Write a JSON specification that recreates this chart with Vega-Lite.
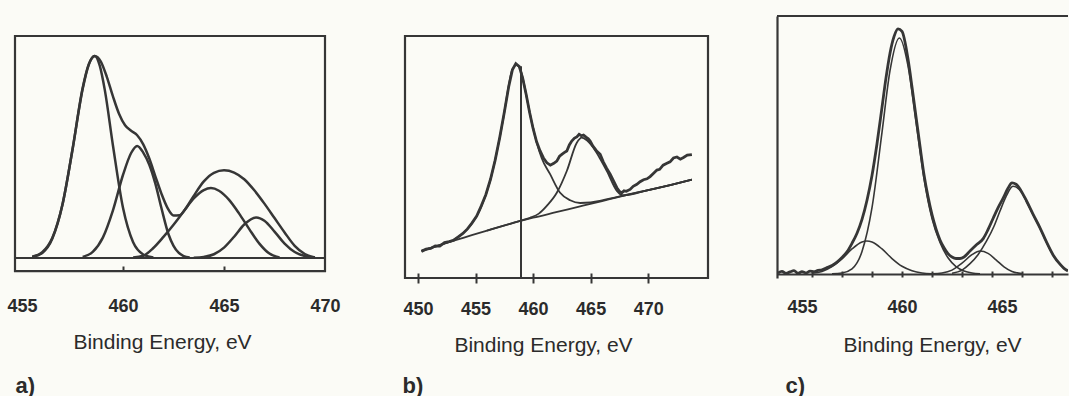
{
  "$schema": "https://vega.github.io/schema/vega-lite/v6.json",
  "background": "#fbfbf6",
  "padding": {"left": 7, "top": 14, "right": 0, "bottom": 0},
  "autosize": {"type": "pad"},
  "bounds": "flush",
  "spacing": 80,
  "config": {
    "view": {"stroke": null},
    "axis": {
      "labelFont": "Liberation Sans", "titleFont": "Liberation Sans",
      "labelColor": "#2b2b2b", "titleColor": "#2b2b2b",
      "labelFontSize": 18, "labelFontWeight": "bold",
      "titleFontSize": 21, "titleFontWeight": "normal",
      "grid": false, "domainColor": "#363636", "tickColor": "#363636",
      "domainWidth": 2.2, "tickWidth": 2, "labelFlush": false, "labelOverlap": false
    }
  },
  "datasets": {
    "a_curves": [
      {"curve": "envelope", "eV": 455.5, "I": 0.5}, {"curve": "envelope", "eV": 456.0, "I": 2.3}, {"curve": "envelope", "eV": 456.5, "I": 8.8},
      {"curve": "envelope", "eV": 457.0, "I": 24.0}, {"curve": "envelope", "eV": 457.5, "I": 49.0}, {"curve": "envelope", "eV": 458.0, "I": 76.6},
      {"curve": "envelope", "eV": 458.3, "I": 87.2}, {"curve": "envelope", "eV": 458.6, "I": 91.0}, {"curve": "envelope", "eV": 458.9, "I": 88.5},
      {"curve": "envelope", "eV": 459.2, "I": 81.5}, {"curve": "envelope", "eV": 459.5, "I": 72.8}, {"curve": "envelope", "eV": 459.8, "I": 65.0},
      {"curve": "envelope", "eV": 460.1, "I": 59.8}, {"curve": "envelope", "eV": 460.4, "I": 57.3}, {"curve": "envelope", "eV": 460.7, "I": 55.3},
      {"curve": "envelope", "eV": 461.0, "I": 51.2}, {"curve": "envelope", "eV": 461.3, "I": 44.8}, {"curve": "envelope", "eV": 461.6, "I": 36.8},
      {"curve": "envelope", "eV": 461.9, "I": 29.0}, {"curve": "envelope", "eV": 462.2, "I": 22.6}, {"curve": "envelope", "eV": 462.5, "I": 19.2},
      {"curve": "envelope", "eV": 462.8, "I": 19.3}, {"curve": "envelope", "eV": 463.1, "I": 22.3}, {"curve": "envelope", "eV": 463.5, "I": 28.0},
      {"curve": "envelope", "eV": 464.0, "I": 34.5}, {"curve": "envelope", "eV": 464.5, "I": 38.4}, {"curve": "envelope", "eV": 465.0, "I": 39.5},
      {"curve": "envelope", "eV": 465.5, "I": 38.5}, {"curve": "envelope", "eV": 466.0, "I": 35.5}, {"curve": "envelope", "eV": 466.5, "I": 30.5},
      {"curve": "envelope", "eV": 467.0, "I": 24.5}, {"curve": "envelope", "eV": 467.5, "I": 18.0}, {"curve": "envelope", "eV": 468.0, "I": 11.5},
      {"curve": "envelope", "eV": 468.5, "I": 5.5}, {"curve": "envelope", "eV": 469.0, "I": 1.8}, {"curve": "envelope", "eV": 469.5, "I": 0.2},
      {"curve": "p1", "eV": 455.5, "I": 0.6}, {"curve": "p1", "eV": 456.0, "I": 2.6}, {"curve": "p1", "eV": 456.5, "I": 9.1},
      {"curve": "p1", "eV": 457.0, "I": 24.1}, {"curve": "p1", "eV": 457.5, "I": 49.0}, {"curve": "p1", "eV": 458.0, "I": 76.1},
      {"curve": "p1", "eV": 458.3, "I": 87.0}, {"curve": "p1", "eV": 458.6, "I": 91.0}, {"curve": "p1", "eV": 458.85, "I": 86.5},
      {"curve": "p1", "eV": 459.1, "I": 75.5}, {"curve": "p1", "eV": 459.5, "I": 50.7}, {"curve": "p1", "eV": 460.0, "I": 22.5},
      {"curve": "p1", "eV": 460.5, "I": 7.1}, {"curve": "p1", "eV": 461.0, "I": 1.6}, {"curve": "p1", "eV": 461.5, "I": 0.2},
      {"curve": "p2", "eV": 458.0, "I": 0.5}, {"curve": "p2", "eV": 458.5, "I": 2.8}, {"curve": "p2", "eV": 459.0, "I": 9.2},
      {"curve": "p2", "eV": 459.5, "I": 21.5}, {"curve": "p2", "eV": 460.0, "I": 37.5}, {"curve": "p2", "eV": 460.4, "I": 47.3},
      {"curve": "p2", "eV": 460.7, "I": 50.5}, {"curve": "p2", "eV": 461.0, "I": 47.5}, {"curve": "p2", "eV": 461.3, "I": 42.0},
      {"curve": "p2", "eV": 461.6, "I": 33.5}, {"curve": "p2", "eV": 461.9, "I": 22.5}, {"curve": "p2", "eV": 462.25, "I": 10.7},
      {"curve": "p2", "eV": 462.5, "I": 5.5}, {"curve": "p2", "eV": 462.75, "I": 2.4}, {"curve": "p2", "eV": 463.0, "I": 0.9},
      {"curve": "p2", "eV": 463.3, "I": 0.2},
      {"curve": "p3", "eV": 460.5, "I": 0.2}, {"curve": "p3", "eV": 461.0, "I": 1.0}, {"curve": "p3", "eV": 461.5, "I": 4.5},
      {"curve": "p3", "eV": 462.0, "I": 9.5}, {"curve": "p3", "eV": 462.5, "I": 15.0}, {"curve": "p3", "eV": 463.0, "I": 21.0},
      {"curve": "p3", "eV": 463.5, "I": 26.8}, {"curve": "p3", "eV": 464.0, "I": 30.6}, {"curve": "p3", "eV": 464.35, "I": 31.5},
      {"curve": "p3", "eV": 464.75, "I": 30.3}, {"curve": "p3", "eV": 465.25, "I": 26.2}, {"curve": "p3", "eV": 465.75, "I": 20.0},
      {"curve": "p3", "eV": 466.25, "I": 13.0}, {"curve": "p3", "eV": 466.75, "I": 6.5}, {"curve": "p3", "eV": 467.25, "I": 2.0},
      {"curve": "p3", "eV": 467.75, "I": 0.3},
      {"curve": "p4", "eV": 463.5, "I": 0.1}, {"curve": "p4", "eV": 464.0, "I": 0.5}, {"curve": "p4", "eV": 464.5, "I": 1.7},
      {"curve": "p4", "eV": 465.0, "I": 4.7}, {"curve": "p4", "eV": 465.5, "I": 9.6}, {"curve": "p4", "eV": 466.0, "I": 15.1},
      {"curve": "p4", "eV": 466.6, "I": 18.3}, {"curve": "p4", "eV": 467.0, "I": 16.8}, {"curve": "p4", "eV": 467.5, "I": 11.9},
      {"curve": "p4", "eV": 468.0, "I": 6.5}, {"curve": "p4", "eV": 468.5, "I": 2.7}, {"curve": "p4", "eV": 469.0, "I": 0.9},
      {"curve": "p4", "eV": 469.5, "I": 0.2}
    ],
    "b_curves": [
      {"curve": "bg", "eV": 450.3, "I": 11.2}, {"curve": "bg", "eV": 452.0, "I": 13.8}, {"curve": "bg", "eV": 454.0, "I": 16.7},
      {"curve": "bg", "eV": 456.0, "I": 19.6}, {"curve": "bg", "eV": 458.0, "I": 22.4}, {"curve": "bg", "eV": 460.0, "I": 24.9},
      {"curve": "bg", "eV": 462.0, "I": 27.2}, {"curve": "bg", "eV": 464.0, "I": 29.5}, {"curve": "bg", "eV": 466.0, "I": 31.8},
      {"curve": "bg", "eV": 468.0, "I": 34.1}, {"curve": "bg", "eV": 470.0, "I": 36.3}, {"curve": "bg", "eV": 472.0, "I": 38.5},
      {"curve": "bg", "eV": 473.8, "I": 40.6},
      {"curve": "fit1", "eV": 450.3, "I": 11.2}, {"curve": "fit1", "eV": 451.9, "I": 13.6}, {"curve": "fit1", "eV": 453.36, "I": 16.5},
      {"curve": "fit1", "eV": 454.52, "I": 21.5}, {"curve": "fit1", "eV": 455.39, "I": 28.2}, {"curve": "fit1", "eV": 456.26, "I": 40.0},
      {"curve": "fit1", "eV": 456.84, "I": 51.8}, {"curve": "fit1", "eV": 457.42, "I": 66.2}, {"curve": "fit1", "eV": 457.85, "I": 78.6},
      {"curve": "fit1", "eV": 458.15, "I": 85.5}, {"curve": "fit1", "eV": 458.55, "I": 88.0}, {"curve": "fit1", "eV": 458.9, "I": 86.2},
      {"curve": "fit1", "eV": 459.16, "I": 81.4}, {"curve": "fit1", "eV": 459.51, "I": 73.1}, {"curve": "fit1", "eV": 459.89, "I": 64.2},
      {"curve": "fit1", "eV": 460.32, "I": 55.9}, {"curve": "fit1", "eV": 460.75, "I": 49.5}, {"curve": "fit1", "eV": 461.48, "I": 42.9},
      {"curve": "fit1", "eV": 462.35, "I": 35.2}, {"curve": "fit1", "eV": 463.22, "I": 32.1}, {"curve": "fit1", "eV": 464.09, "I": 31.0},
      {"curve": "fit1", "eV": 465.0, "I": 31.2}, {"curve": "fit1", "eV": 465.9, "I": 32.0}, {"curve": "fit1", "eV": 466.98, "I": 33.1},
      {"curve": "fit1", "eV": 467.85, "I": 34.1}, {"curve": "fit1", "eV": 470.0, "I": 36.3}, {"curve": "fit1", "eV": 472.0, "I": 38.5},
      {"curve": "fit1", "eV": 473.8, "I": 40.6},
      {"curve": "fit2", "eV": 456.0, "I": 19.6}, {"curve": "fit2", "eV": 458.0, "I": 22.4}, {"curve": "fit2", "eV": 459.0, "I": 23.8},
      {"curve": "fit2", "eV": 459.74, "I": 24.9}, {"curve": "fit2", "eV": 460.5, "I": 26.6}, {"curve": "fit2", "eV": 461.19, "I": 29.8},
      {"curve": "fit2", "eV": 462.06, "I": 35.2}, {"curve": "fit2", "eV": 462.93, "I": 44.2}, {"curve": "fit2", "eV": 463.8, "I": 55.9},
      {"curve": "fit2", "eV": 464.23, "I": 58.0}, {"curve": "fit2", "eV": 464.7, "I": 56.8}, {"curve": "fit2", "eV": 465.24, "I": 53.8},
      {"curve": "fit2", "eV": 465.8, "I": 49.5}, {"curve": "fit2", "eV": 466.41, "I": 44.2}, {"curve": "fit2", "eV": 467.28, "I": 36.0},
      {"curve": "fit2", "eV": 467.85, "I": 34.1}, {"curve": "fit2", "eV": 470.0, "I": 36.3}, {"curve": "fit2", "eV": 472.0, "I": 38.5},
      {"curve": "fit2", "eV": 473.8, "I": 40.6},
      {"curve": "data", "eV": 450.3, "I": 11.0}, {"curve": "data", "eV": 450.7, "I": 11.9}, {"curve": "data", "eV": 451.1, "I": 12.2},
      {"curve": "data", "eV": 451.5, "I": 13.3}, {"curve": "data", "eV": 451.9, "I": 13.2}, {"curve": "data", "eV": 452.3, "I": 14.6},
      {"curve": "data", "eV": 452.7, "I": 15.0}, {"curve": "data", "eV": 453.1, "I": 15.6}, {"curve": "data", "eV": 453.5, "I": 17.0},
      {"curve": "data", "eV": 453.9, "I": 18.4}, {"curve": "data", "eV": 454.3, "I": 20.3}, {"curve": "data", "eV": 454.7, "I": 22.8},
      {"curve": "data", "eV": 455.1, "I": 25.6}, {"curve": "data", "eV": 455.5, "I": 29.8}, {"curve": "data", "eV": 455.9, "I": 34.5},
      {"curve": "data", "eV": 456.3, "I": 40.8}, {"curve": "data", "eV": 456.7, "I": 48.6}, {"curve": "data", "eV": 457.1, "I": 58.0},
      {"curve": "data", "eV": 457.5, "I": 68.5}, {"curve": "data", "eV": 457.9, "I": 79.5}, {"curve": "data", "eV": 458.2, "I": 86.0},
      {"curve": "data", "eV": 458.5, "I": 88.6}, {"curve": "data", "eV": 458.8, "I": 87.4}, {"curve": "data", "eV": 459.1, "I": 82.5},
      {"curve": "data", "eV": 459.4, "I": 75.8}, {"curve": "data", "eV": 459.7, "I": 68.4}, {"curve": "data", "eV": 460.0, "I": 61.8},
      {"curve": "data", "eV": 460.3, "I": 56.4}, {"curve": "data", "eV": 460.6, "I": 52.6}, {"curve": "data", "eV": 460.9, "I": 49.6},
      {"curve": "data", "eV": 461.2, "I": 47.6}, {"curve": "data", "eV": 461.5, "I": 46.6}, {"curve": "data", "eV": 461.8, "I": 47.4},
      {"curve": "data", "eV": 462.06, "I": 48.3}, {"curve": "data", "eV": 462.3, "I": 50.3}, {"curve": "data", "eV": 462.5, "I": 51.1},
      {"curve": "data", "eV": 462.7, "I": 51.8}, {"curve": "data", "eV": 462.93, "I": 52.5}, {"curve": "data", "eV": 463.15, "I": 55.0},
      {"curve": "data", "eV": 463.36, "I": 56.6}, {"curve": "data", "eV": 463.6, "I": 57.8}, {"curve": "data", "eV": 463.8, "I": 58.3},
      {"curve": "data", "eV": 464.0, "I": 59.4}, {"curve": "data", "eV": 464.2, "I": 58.8}, {"curve": "data", "eV": 464.38, "I": 59.1},
      {"curve": "data", "eV": 464.6, "I": 58.2}, {"curve": "data", "eV": 464.8, "I": 57.5}, {"curve": "data", "eV": 464.96, "I": 56.6},
      {"curve": "data", "eV": 465.2, "I": 54.5}, {"curve": "data", "eV": 465.5, "I": 52.6}, {"curve": "data", "eV": 465.83, "I": 51.1},
      {"curve": "data", "eV": 466.1, "I": 48.0}, {"curve": "data", "eV": 466.4, "I": 45.3}, {"curve": "data", "eV": 466.7, "I": 42.9},
      {"curve": "data", "eV": 467.0, "I": 40.0}, {"curve": "data", "eV": 467.28, "I": 37.3}, {"curve": "data", "eV": 467.5, "I": 35.8},
      {"curve": "data", "eV": 467.71, "I": 35.2}, {"curve": "data", "eV": 467.9, "I": 36.0}, {"curve": "data", "eV": 468.1, "I": 35.8},
      {"curve": "data", "eV": 468.43, "I": 36.6}, {"curve": "data", "eV": 468.7, "I": 37.9}, {"curve": "data", "eV": 469.02, "I": 38.7},
      {"curve": "data", "eV": 469.3, "I": 39.8}, {"curve": "data", "eV": 469.6, "I": 40.6}, {"curve": "data", "eV": 469.9, "I": 41.0},
      {"curve": "data", "eV": 470.17, "I": 41.9}, {"curve": "data", "eV": 470.45, "I": 43.2}, {"curve": "data", "eV": 470.76, "I": 44.6},
      {"curve": "data", "eV": 471.0, "I": 44.9}, {"curve": "data", "eV": 471.3, "I": 46.6}, {"curve": "data", "eV": 471.63, "I": 47.4},
      {"curve": "data", "eV": 471.9, "I": 48.0}, {"curve": "data", "eV": 472.2, "I": 49.6}, {"curve": "data", "eV": 472.5, "I": 50.0},
      {"curve": "data", "eV": 472.8, "I": 49.1}, {"curve": "data", "eV": 473.07, "I": 49.8}, {"curve": "data", "eV": 473.4, "I": 50.8},
      {"curve": "data", "eV": 473.8, "I": 51.0}
    ],
    "b_marker": [{"eV": 458.95, "I": 87.5}],
    "c_curves": [
      {"curve": "envelope", "eV": 453.8, "I": 0.4}, {"curve": "envelope", "eV": 454.0, "I": 1.0}, {"curve": "envelope", "eV": 454.2, "I": 0.2},
      {"curve": "envelope", "eV": 454.4, "I": 0.8}, {"curve": "envelope", "eV": 454.6, "I": 1.3}, {"curve": "envelope", "eV": 454.8, "I": 0.3},
      {"curve": "envelope", "eV": 455.0, "I": 0.9}, {"curve": "envelope", "eV": 455.2, "I": 0.4}, {"curve": "envelope", "eV": 455.4, "I": 1.1},
      {"curve": "envelope", "eV": 455.6, "I": 0.9}, {"curve": "envelope", "eV": 455.8, "I": 1.4}, {"curve": "envelope", "eV": 456.0, "I": 1.6},
      {"curve": "envelope", "eV": 456.25, "I": 2.5}, {"curve": "envelope", "eV": 456.5, "I": 3.3}, {"curve": "envelope", "eV": 456.75, "I": 4.6},
      {"curve": "envelope", "eV": 457.0, "I": 6.4}, {"curve": "envelope", "eV": 457.25, "I": 8.6}, {"curve": "envelope", "eV": 457.5, "I": 11.9},
      {"curve": "envelope", "eV": 457.75, "I": 15.8}, {"curve": "envelope", "eV": 458.0, "I": 21.2}, {"curve": "envelope", "eV": 458.25, "I": 28.6},
      {"curve": "envelope", "eV": 458.5, "I": 38.2}, {"curve": "envelope", "eV": 458.75, "I": 50.5}, {"curve": "envelope", "eV": 459.0, "I": 64.6},
      {"curve": "envelope", "eV": 459.2, "I": 76.0}, {"curve": "envelope", "eV": 459.4, "I": 85.6}, {"curve": "envelope", "eV": 459.6, "I": 92.0},
      {"curve": "envelope", "eV": 459.8, "I": 95.0}, {"curve": "envelope", "eV": 460.0, "I": 94.0}, {"curve": "envelope", "eV": 460.3, "I": 83.3},
      {"curve": "envelope", "eV": 460.5, "I": 72.5}, {"curve": "envelope", "eV": 460.7, "I": 61.0}, {"curve": "envelope", "eV": 460.9, "I": 49.5},
      {"curve": "envelope", "eV": 461.1, "I": 38.5}, {"curve": "envelope", "eV": 461.3, "I": 30.0}, {"curve": "envelope", "eV": 461.5, "I": 23.0},
      {"curve": "envelope", "eV": 461.7, "I": 17.5}, {"curve": "envelope", "eV": 461.9, "I": 13.2}, {"curve": "envelope", "eV": 462.1, "I": 10.2},
      {"curve": "envelope", "eV": 462.3, "I": 7.9}, {"curve": "envelope", "eV": 462.5, "I": 6.6}, {"curve": "envelope", "eV": 462.7, "I": 6.0},
      {"curve": "envelope", "eV": 462.9, "I": 6.0}, {"curve": "envelope", "eV": 463.1, "I": 6.6}, {"curve": "envelope", "eV": 463.4, "I": 8.9},
      {"curve": "envelope", "eV": 463.75, "I": 11.5}, {"curve": "envelope", "eV": 464.07, "I": 13.8}, {"curve": "envelope", "eV": 464.3, "I": 17.2},
      {"curve": "envelope", "eV": 464.57, "I": 21.8}, {"curve": "envelope", "eV": 464.8, "I": 25.6}, {"curve": "envelope", "eV": 465.07, "I": 29.6},
      {"curve": "envelope", "eV": 465.3, "I": 33.2}, {"curve": "envelope", "eV": 465.5, "I": 35.3}, {"curve": "envelope", "eV": 465.7, "I": 34.8},
      {"curve": "envelope", "eV": 465.95, "I": 32.3}, {"curve": "envelope", "eV": 466.23, "I": 28.3}, {"curve": "envelope", "eV": 466.55, "I": 23.2},
      {"curve": "envelope", "eV": 466.9, "I": 17.9}, {"curve": "envelope", "eV": 467.2, "I": 12.8}, {"curve": "envelope", "eV": 467.57, "I": 7.2},
      {"curve": "envelope", "eV": 467.9, "I": 3.8}, {"curve": "envelope", "eV": 468.1, "I": 2.2}, {"curve": "envelope", "eV": 468.3, "I": 1.2},
      {"curve": "A", "eV": 456.5, "I": 0.1}, {"curve": "A", "eV": 457.0, "I": 0.4}, {"curve": "A", "eV": 457.5, "I": 2.0},
      {"curve": "A", "eV": 458.0, "I": 8.7}, {"curve": "A", "eV": 458.5, "I": 25.7}, {"curve": "A", "eV": 459.0, "I": 54.9},
      {"curve": "A", "eV": 459.4, "I": 78.8}, {"curve": "A", "eV": 459.87, "I": 91.5}, {"curve": "A", "eV": 460.3, "I": 80.7},
      {"curve": "A", "eV": 460.7, "I": 59.0}, {"curve": "A", "eV": 461.1, "I": 37.0}, {"curve": "A", "eV": 461.5, "I": 21.5},
      {"curve": "A", "eV": 461.9, "I": 12.2}, {"curve": "A", "eV": 462.3, "I": 6.3}, {"curve": "A", "eV": 462.7, "I": 2.9},
      {"curve": "A", "eV": 463.1, "I": 1.2}, {"curve": "A", "eV": 463.5, "I": 0.4}, {"curve": "A", "eV": 463.9, "I": 0.1},
      {"curve": "B", "eV": 455.5, "I": 0.3}, {"curve": "B", "eV": 456.0, "I": 1.0}, {"curve": "B", "eV": 456.5, "I": 2.9},
      {"curve": "B", "eV": 457.0, "I": 5.9}, {"curve": "B", "eV": 457.5, "I": 9.7}, {"curve": "B", "eV": 458.0, "I": 12.4},
      {"curve": "B", "eV": 458.24, "I": 12.8}, {"curve": "B", "eV": 458.5, "I": 12.4}, {"curve": "B", "eV": 459.0, "I": 9.7},
      {"curve": "B", "eV": 459.5, "I": 6.0}, {"curve": "B", "eV": 460.0, "I": 3.0}, {"curve": "B", "eV": 460.5, "I": 1.3},
      {"curve": "B", "eV": 461.0, "I": 0.4}, {"curve": "B", "eV": 461.5, "I": 0.1},
      {"curve": "C", "eV": 462.5, "I": 0.3}, {"curve": "C", "eV": 463.0, "I": 1.5}, {"curve": "C", "eV": 463.4, "I": 4.0},
      {"curve": "C", "eV": 463.8, "I": 7.5}, {"curve": "C", "eV": 464.23, "I": 12.8}, {"curve": "C", "eV": 464.6, "I": 18.5},
      {"curve": "C", "eV": 464.9, "I": 24.4}, {"curve": "C", "eV": 465.2, "I": 30.0}, {"curve": "C", "eV": 465.55, "I": 34.0},
      {"curve": "C", "eV": 465.95, "I": 32.0}, {"curve": "C", "eV": 466.23, "I": 28.0}, {"curve": "C", "eV": 466.55, "I": 23.0},
      {"curve": "C", "eV": 466.9, "I": 17.8}, {"curve": "C", "eV": 467.2, "I": 12.7}, {"curve": "C", "eV": 467.57, "I": 7.1},
      {"curve": "C", "eV": 467.9, "I": 3.7}, {"curve": "C", "eV": 468.23, "I": 1.4},
      {"curve": "D", "eV": 461.5, "I": 0.1}, {"curve": "D", "eV": 462.0, "I": 0.4}, {"curve": "D", "eV": 462.5, "I": 1.5},
      {"curve": "D", "eV": 463.0, "I": 4.2}, {"curve": "D", "eV": 463.5, "I": 7.5}, {"curve": "D", "eV": 463.9, "I": 8.9},
      {"curve": "D", "eV": 464.3, "I": 8.0}, {"curve": "D", "eV": 464.7, "I": 5.5}, {"curve": "D", "eV": 465.1, "I": 2.8},
      {"curve": "D", "eV": 465.5, "I": 1.0}, {"curve": "D", "eV": 466.0, "I": 0.2}
    ]
  },
  "hconcat": [
    {
      "width": 310,
      "height": 262,
      "resolve": {"axis": {"x": "independent"}},
      "layer": [
        {
          "data": {"values": [{}]},
          "mark": {"type": "rect", "filled": false, "color": "#363636", "strokeWidth": 2.2},
          "encoding": {
            "x": {"datum": 454.65, "type": "quantitative", "scale": {"domain": [454.65, 470], "nice": false, "zero": false},
              "axis": {"orient": "bottom", "offset": -12, "values": [460, 465], "tickSize": 5, "domain": false, "labels": false,
                "title": "a)", "titleX": 0, "titleY": 126, "titleAlign": "left", "titleBaseline": "alphabetic",
                "titleFontSize": 22, "titleFontWeight": "bold"}},
            "x2": {"datum": 470},
            "y": {"datum": -5.86, "type": "quantitative", "scale": {"domain": [-9, 109], "nice": false, "zero": false}, "axis": null},
            "y2": {"datum": 100}
          }
        },
        {
          "data": {"values": [{}]},
          "mark": {"type": "rule", "color": "#363636", "strokeWidth": 2.2},
          "encoding": {"y": {"datum": 0, "type": "quantitative", "axis": null}}
        },
        {
          "data": {"name": "a_curves"},
          "mark": {"type": "line", "interpolate": "monotone", "color": "#363636", "strokeWidth": 2.5},
          "encoding": {
            "x": {"field": "eV", "type": "quantitative", "scale": {"domain": [454.65, 470], "nice": false, "zero": false},
              "axis": {"orient": "bottom", "offset": -7, "values": [455, 460, 465, 470], "ticks": false, "domain": false,
                "labelPadding": 40, "labelBaseline": "alphabetic",
                "title": "Binding Energy, eV", "titleX": 147, "titleY": 77, "titleAlign": "center", "titleBaseline": "alphabetic"}},
            "y": {"field": "I", "type": "quantitative", "axis": null},
            "detail": {"field": "curve"}
          }
        }
      ]
    },
    {
      "hconcat": [
        {
          "width": 303,
          "height": 262,
          "resolve": {"axis": {"x": "independent"}},
          "layer": [
            {
              "data": {"values": [{}]},
              "mark": {"type": "rect", "filled": false, "color": "#363636", "strokeWidth": 2.2},
              "encoding": {
                "x": {"datum": 448.87, "type": "quantitative", "scale": {"domain": [448.87, 475.2], "nice": false, "zero": false},
                  "axis": {"orient": "bottom", "offset": -5, "values": [450, 455, 460, 465, 470], "tickSize": 10, "domain": false, "labels": false,
                    "title": "b)", "titleX": -3, "titleY": 119, "titleAlign": "left", "titleBaseline": "alphabetic",
                    "titleFontSize": 22, "titleFontWeight": "bold"}},
                "x2": {"datum": 475.2},
                "y": {"datum": 0, "type": "quantitative", "scale": {"domain": [0, 108.26], "nice": false, "zero": false}, "axis": null},
                "y2": {"datum": 100}
              }
            },
            {
              "data": {"name": "b_curves"},
              "transform": [{"filter": "datum.curve !== 'data'"}],
              "mark": {"type": "line", "interpolate": "monotone", "color": "#363636", "strokeWidth": 1.8},
              "encoding": {
                "x": {"field": "eV", "type": "quantitative", "scale": {"domain": [448.87, 475.2], "nice": false, "zero": false},
                  "axis": {"orient": "bottom", "offset": 0, "values": [450, 455, 460, 465, 470], "ticks": false, "domain": false,
                    "labelPadding": 36, "labelBaseline": "alphabetic",
                    "title": "Binding Energy, eV", "titleX": 138, "titleY": 73, "titleAlign": "center", "titleBaseline": "alphabetic"}},
                "y": {"field": "I", "type": "quantitative", "axis": null},
                "detail": {"field": "curve"}
              }
            },
            {
              "data": {"name": "b_curves"},
              "transform": [{"filter": "datum.curve === 'data'"}],
              "mark": {"type": "line", "interpolate": "linear", "color": "#363636", "strokeWidth": 2.8},
              "encoding": {
                "x": {"field": "eV", "type": "quantitative", "scale": {"domain": [448.87, 475.2], "nice": false, "zero": false}, "axis": null},
                "y": {"field": "I", "type": "quantitative", "axis": null}
              }
            },
            {
              "data": {"name": "b_marker"},
              "mark": {"type": "rule", "color": "#363636", "strokeWidth": 2},
              "encoding": {
                "x": {"field": "eV", "type": "quantitative", "scale": {"domain": [448.87, 475.2], "nice": false, "zero": false}, "axis": null},
                "y": {"field": "I", "type": "quantitative", "axis": null},
                "y2": {"datum": 0}
              }
            }
          ]
        },
        {
          "width": 291,
          "height": 262,
          "resolve": {"axis": {"x": "independent"}},
          "layer": [
            {
              "data": {"values": [{}]},
              "mark": {"type": "rule", "color": "#363636", "strokeWidth": 2.2},
              "encoding": {
                "y": {"datum": 100, "type": "quantitative", "scale": {"domain": [-1.55, 100], "nice": false, "zero": false},
                  "axis": {"orient": "left", "domain": true, "ticks": false, "labels": false, "title": null}}
              }
            },
            {
              "data": {"name": "c_curves"},
              "transform": [{"filter": "datum.curve !== 'envelope'"}],
              "mark": {"type": "line", "interpolate": "monotone", "color": "#363636", "strokeWidth": 1.6, "clip": true},
              "encoding": {
                "x": {"field": "eV", "type": "quantitative", "scale": {"domain": [453.75, 468.3], "nice": false, "zero": false},
                  "axis": {"orient": "bottom", "offset": -7, "values": [455.5, 457, 458.5, 460, 461.5, 463, 464.5, 466, 467.5],
                    "tickSize": 6, "domain": false, "labels": false,
                    "title": "c)", "titleX": 8, "titleY": 121, "titleAlign": "left", "titleBaseline": "alphabetic",
                    "titleFontSize": 22, "titleFontWeight": "bold"}},
                "y": {"field": "I", "type": "quantitative",
                  "axis": {"orient": "left", "domain": true, "ticks": false, "labels": false, "title": null}},
                "detail": {"field": "curve"}
              }
            },
            {
              "data": {"name": "c_curves"},
              "transform": [{"filter": "datum.curve === 'envelope'"}],
              "mark": {"type": "line", "interpolate": "monotone", "color": "#363636", "strokeWidth": 2.8, "clip": true},
              "encoding": {
                "x": {"field": "eV", "type": "quantitative", "scale": {"domain": [453.75, 468.3], "nice": false, "zero": false},
                  "axis": {"orient": "bottom", "offset": -4, "values": [455, 460, 465], "ticks": false, "domain": true,
                    "labelPadding": 38, "labelBaseline": "alphabetic",
                    "title": "Binding Energy, eV", "titleX": 155, "titleY": 77, "titleAlign": "center", "titleBaseline": "alphabetic"}},
                "y": {"field": "I", "type": "quantitative",
                  "axis": {"orient": "left", "domain": true, "ticks": false, "labels": false, "title": null}}
              }
            }
          ]
        }
      ],
      "spacing": 69,
      "bounds": "flush"
    }
  ]
}
